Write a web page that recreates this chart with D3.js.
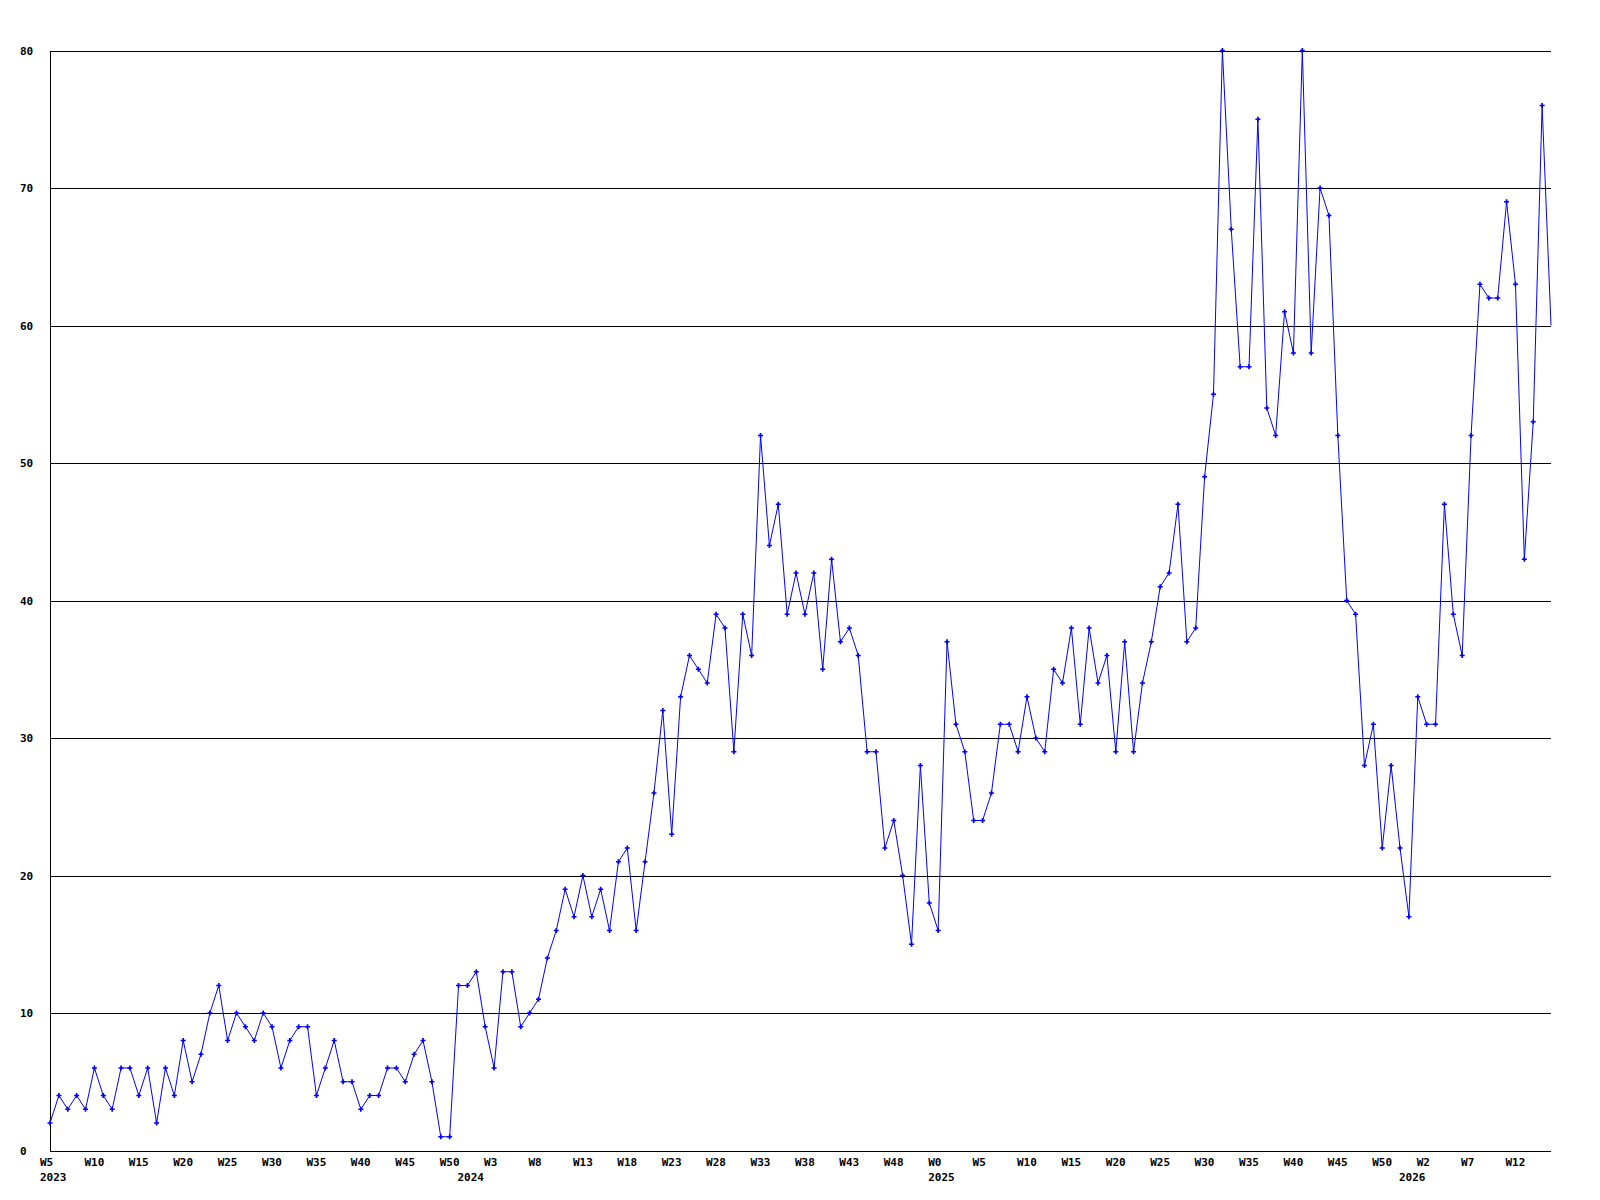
<!DOCTYPE html>
<html>
<head>
<meta charset="utf-8">
<script src="https://cdn.jsdelivr.net/npm/d3@7"></script>
<style>
  html, body { margin: 0; padding: 0; background: #ffffff; }
  svg { display: block; }
  text { font-family: "DejaVu Sans Mono", "Liberation Mono", monospace; font-weight: bold; font-size: 11px; fill: #000; }
</style>
</head>
<body>
<svg id="chart" width="1600" height="1200"></svg>
<script>
// Weekly values, 2023 W5 onwards
const values = [
  2,4,3,4,3,6,4,3,6,6, 4,6,2,6,4,8,5,7,10,12, 8,10,9,8,10,9,6,8,9,9,
  4,6,8,5,5,3,4,4,6,6, 5,7,8,5,1,1,12,12,13,9,
  6,13,13,9,10,11,14,16,19,17,20,17,19,16,21,22,16,
  21,26,32,23,33,36,35,34,39,38,29,39,36,52,44,47,39,42,39,42,35,43,37,38,36,29,29,22,24,20,15,28,18,16,37,31,
  29,24,24,26,31,31,29,33,30,29,35,34,38,31,38,34,36,29,37,29,34,37,41,42,47,37,38,
  49,55,80,67,57,57,75,54,52,61,58,80,58,70,68,52,40,39,
  28,31,22,28,22,17,33,31,31,47,39,36,52,63,62,62,69,63,43,53,76,60
];
// x tick labels (one every 5 weeks, starting at the first point)
const weekTickLabels = ["W5","W10","W15","W20","W25","W30","W35","W40","W45","W50",
  "W3","W8","W13","W18","W23","W28","W33","W38","W43","W48",
  "W0","W5","W10","W15","W20","W25","W30","W35","W40","W45","W50",
  "W2","W7","W12"];
const weekTickStep = 5;
// year labels and the point index they sit under
const yearLabels = ["2023","2024","2025","2026"];
const yearIndex = [0, 47, 100, 153];
// y ticks
const yTicks = [0,10,20,30,40,50,60,70,80];

const svg = d3.select("#chart");
const mLeft = 50, mRight = 1551, mTop = 50.5, mBottom = 1150.5;

const x = d3.scaleLinear().domain([0, values.length - 1]).range([mLeft, mRight]);
const y = d3.scaleLinear().domain([0, 80]).range([mBottom, mTop]);

// gridlines
svg.append("g").selectAll("line").data(yTicks).join("line")
  .attr("x1", mLeft).attr("x2", mRight)
  .attr("y1", d => Math.round(y(d)) + 0.5).attr("y2", d => Math.round(y(d)) + 0.5)
  .attr("stroke", "#000").attr("stroke-width", 1)
  .attr("shape-rendering", "crispEdges");

// left axis line
svg.append("line")
  .attr("x1", mLeft + 0.5).attr("x2", mLeft + 0.5)
  .attr("y1", Math.round(y(80)) + 0.5).attr("y2", Math.round(y(0)) + 0.5)
  .attr("stroke", "#000").attr("stroke-width", 1)
  .attr("shape-rendering", "crispEdges");

// y tick labels (left aligned)
svg.append("g").selectAll("text").data(yTicks).join("text")
  .attr("x", 20).attr("y", d => y(d) + 4)
  .attr("text-anchor", "start")
  .text(d => d);

// x tick labels
svg.append("g").selectAll("text").data(weekTickLabels).join("text")
  .attr("x", (d, i) => x(i * weekTickStep) - 10)
  .attr("y", 1166)
  .attr("text-anchor", "start")
  .text(d => d);

// year labels
svg.append("g").selectAll("text").data(yearLabels).join("text")
  .attr("x", (d, i) => x(yearIndex[i]) - 10)
  .attr("y", 1181)
  .attr("text-anchor", "start")
  .text(d => d);

// line
const line = d3.line().x((d, i) => x(i)).y(d => y(d));
svg.append("path")
  .datum(values)
  .attr("d", line)
  .attr("fill", "none")
  .attr("stroke", "#0000ff")
  .attr("stroke-width", 1);

// markers (last, partial week has none)
const sym = d3.symbol().type(d3.symbolCross).size(14);
svg.append("g").selectAll("path").data(values.slice(0, values.length - 1)).join("path")
  .attr("transform", (d, i) => `translate(${x(i)},${y(d)})`)
  .attr("d", sym)
  .attr("fill", "#0000ff");
</script>
</body>
</html>
